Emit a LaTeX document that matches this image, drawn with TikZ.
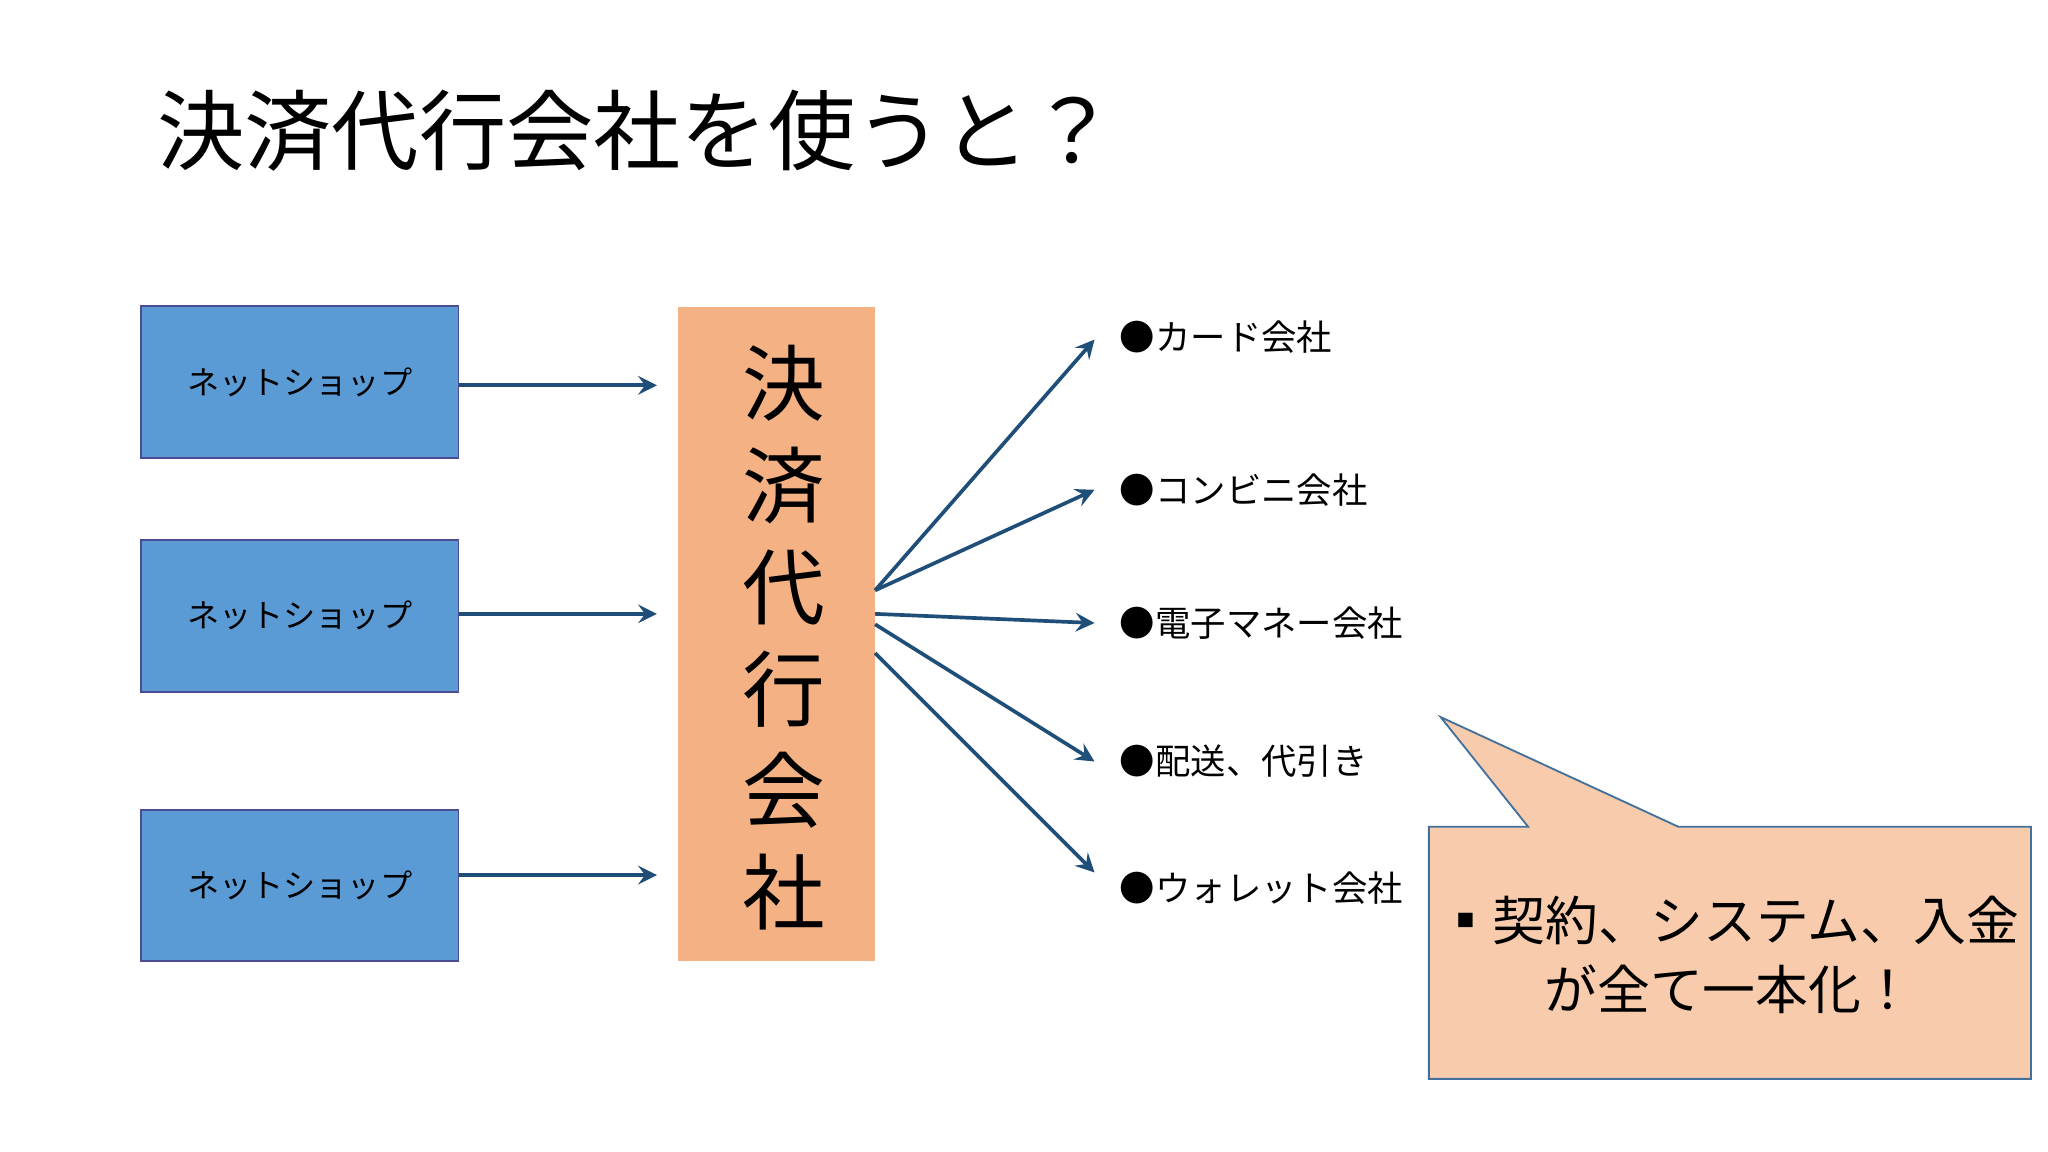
\documentclass[tikz,border=0pt]{standalone}
\usepackage{fontspec}
\setmainfont{Noto Sans CJK JP}
\begin{document}
\begin{tikzpicture}[x=0.01cm,y=-0.01cm,
  shop/.style={draw=blue!40!black!70!white,fill={rgb,255:red,91;green,155;blue,213},minimum width=243*0.01cm,minimum height=116*0.01cm,font=\fontsize{7}{9}\selectfont},
  arr/.style={draw={rgb,255:red,31;green,78;blue,121},->,>=stealth,thick},
  lbl/.style={anchor=west,font=\fontsize{7.7}{10}\selectfont}]
\useasboundingbox[fill=white] (0,0) rectangle (1568,882);
\node[anchor=west,font=\fontsize{19}{22}\selectfont] (title) at (108,100) {決済代行会社を使うと？};
\node[shop] (s1) at (229.5,292.5) {ネットショップ};
\node[shop] (s2) at (229.5,471.5) {ネットショップ};
\node[shop] (s3) at (229.5,678) {ネットショップ};
\node[fill={rgb,255:red,244;green,177;blue,131},minimum width=151*0.01cm,minimum height=501*0.01cm] (c) at (594.5,485.5) {};
\node[font=\fontsize{18}{22}\selectfont,align=center,text width=1.5em] at (594.5,488) {\baselineskip=78\dimexpr0.01cm\relax 決\\済\\代\\行\\会\\社};
\coordinate (e1) at (503,295); \coordinate (e2) at (503,470); \coordinate (e3) at (503,670);
\draw[arr] (s1.east|-e1) -- (e1);
\draw[arr] (s2.east|-e2) -- (e2);
\draw[arr] (s3.east|-e3) -- (e3);
\node[lbl] (l1) at (845,258) {●カード会社};
\node[lbl] (l2) at (845,375) {●コンビニ会社};
\node[lbl] (l3) at (845,477) {●電子マネー会社};
\node[lbl] (l4) at (845,583) {●配送、代引き};
\node[lbl] (l5) at (845,680) {●ウォレット会社};
\coordinate (t1) at (838,260); \coordinate (t2) at (838,375); \coordinate (t3) at (838,477); \coordinate (t4) at (838,583); \coordinate (t5) at (838,668);
\coordinate (o1) at (670,452); \coordinate (o3) at (670,470); \coordinate (o4) at (670,478); \coordinate (o5) at (670,500);
\draw[arr] (o1) -- (t1);
\draw[arr] (o1) -- (t2);
\draw[arr] (o3) -- (t3);
\draw[arr] (o4) -- (t4);
\draw[arr] (o5) -- (t5);
\draw[draw={rgb,255:red,65;green,113;blue,156},fill={rgb,255:red,248;green,203;blue,173}] (1094,633)--(1170,633)--(1103,549)--(1285,633)--(1555,633)--(1555,826)--(1094,826)--cycle;
\node[font=\fontsize{11.5}{15}\selectfont,align=center] (co) at (1324,731) {▪契約、システム、入金\\が全て一本化！};
\end{tikzpicture}
\end{document}
